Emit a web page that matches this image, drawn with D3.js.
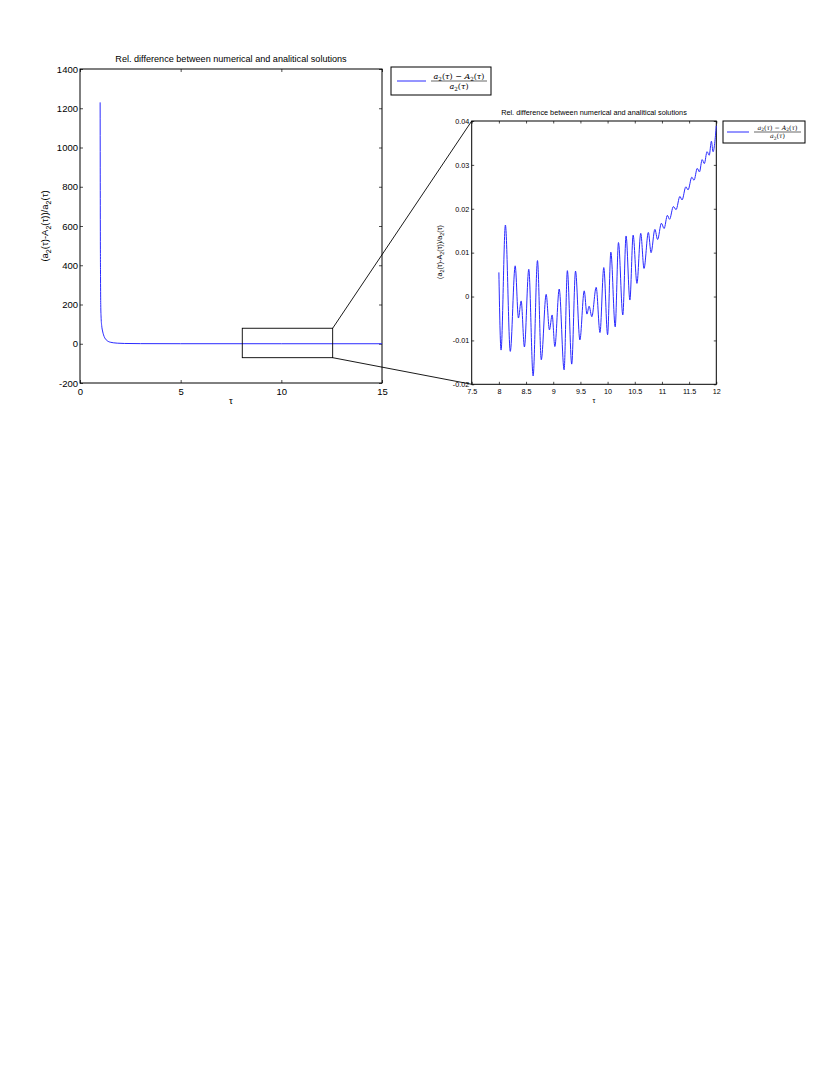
<!DOCTYPE html>
<html><head><meta charset="utf-8">
<script src="https://cdn.jsdelivr.net/npm/d3@7"></script>
<style>
body{margin:0;background:#fff;}
svg{display:block;font-family:"Liberation Sans",Arial,sans-serif;}
</style></head>
<body>
<svg id="c" width="830" height="1075"></svg>
<script>
// ---------- data ----------
const titleText = "Rel. difference between numerical and analitical solutions";
const leftXTicks = [0, 5, 10, 15];
const leftYTicks = [-200, 0, 200, 400, 600, 800, 1000, 1200, 1400];
const rightXTicks = [7.5, 8, 8.5, 9, 9.5, 10, 10.5, 11, 11.5, 12];
const rightYTicks = [-0.02, -0.01, 0, 0.01, 0.02, 0.03, 0.04];
const rightYTickLabels = ["-0.02", "-0.01", "0", "0.01", "0.02", "0.03", "0.04"];

const leftTau = [1.00, 1.005, 1.01, 1.02, 1.03, 1.05, 1.08, 1.12, 1.17, 1.23, 1.30, 1.40, 1.50, 1.65, 1.85, 2.2, 3.0, 5.0, 10, 15];
const leftVal = [1230, 900, 600, 330, 200, 130, 90, 65, 45, 30, 20, 12, 8, 5, 3, 1.5, 0.6, 0.2, 0.05, 0.04];

const rightTau = [8.00, 8.04, 8.12, 8.21, 8.30, 8.36, 8.41, 8.47, 8.55, 8.63, 8.71, 8.78, 8.87, 8.93, 8.98, 9.03,
  9.11, 9.20, 9.26, 9.34, 9.41, 9.49, 9.57, 9.62, 9.66, 9.71, 9.79, 9.86, 9.93, 10.00, 10.06, 10.14, 10.20, 10.28,
  10.34, 10.41, 10.47, 10.54, 10.61, 10.67, 10.75, 10.80, 10.87, 10.92, 10.99, 11.04, 11.10, 11.14, 11.21, 11.26,
  11.33, 11.37, 11.44, 11.48, 11.55, 11.59, 11.65, 11.69, 11.74, 11.78, 11.83, 11.87, 11.91, 11.94, 12.00];
const rightVal = [0.0055, -0.0122, 0.0163, -0.0125, 0.0070, -0.0049, -0.0010, -0.0115, 0.0062, -0.0181, 0.0082, -0.0144, 0.0005, -0.0076, -0.0042, -0.0114,
  0.0017, -0.0167, 0.0059, -0.0154, 0.0058, -0.0099, 0.0013, -0.0040, -0.0022, -0.0046, 0.0021, -0.0082, 0.0066, -0.0087, 0.0101, -0.0069, 0.0123, -0.0042,
  0.0138, -0.0008, 0.0140, 0.0030, 0.0144, 0.0064, 0.0146, 0.0100, 0.0153, 0.0130, 0.0167, 0.0155, 0.0185, 0.0176, 0.0205, 0.0198,
  0.0228, 0.0220, 0.0250, 0.0243, 0.0272, 0.0265, 0.0292, 0.0284, 0.0312, 0.0303, 0.0330, 0.0322, 0.0354, 0.0330, 0.0389];

// zoom box in left-chart data coordinates [tau0, tau1, v0, v1]
const zoomBox = [8.06, 12.55, -71, 79];

// ---------- drawing ----------
const svg = d3.select("#c");
const blue = "#2a2aff";

const xL = d3.scaleLinear().domain([0, 15]).range([80, 382]);
const yL = d3.scaleLinear().domain([-200, 1400]).range([383, 69]);
const xR = d3.scaleLinear().domain([7.5, 12]).range([471.7, 716.3]);
const yR = d3.scaleLinear().domain([-0.02, 0.04]).range([384.3, 121]);

const plain = d => String(d);

function frame(g, x, y, xt, yt, ytLabels, fs, tickLen, xLabOff, yLabOff) {
  const [x0, x1] = x.range(), [y0, y1] = y.range();
  const ax = d3.axisBottom(x).tickValues(xt).tickSizeInner(-tickLen).tickSizeOuter(0).tickPadding(xLabOff).tickFormat(plain);
  const gb = g.append("g").attr("transform", `translate(0,${y0})`).call(ax);
  const axT = d3.axisTop(x).tickValues(xt).tickSizeInner(-tickLen).tickSizeOuter(0).tickFormat("");
  const gt = g.append("g").attr("transform", `translate(0,${y1})`).call(axT);
  const ay = d3.axisLeft(y).tickValues(yt).tickSizeInner(-tickLen).tickSizeOuter(0).tickPadding(yLabOff)
    .tickFormat((d, i) => ytLabels ? ytLabels[i] : plain(d));
  const gl = g.append("g").attr("transform", `translate(${x0},0)`).call(ay);
  const ayR = d3.axisRight(y).tickValues(yt).tickSizeInner(-tickLen).tickSizeOuter(0).tickFormat("");
  const gr = g.append("g").attr("transform", `translate(${x1},0)`).call(ayR);
  [gb, gt, gl, gr].forEach(a => {
    a.select(".domain").remove();
    a.selectAll("line").attr("stroke", "#000").attr("stroke-width", 0.7);
    a.selectAll("text").attr("font-size", fs).attr("fill", "#000").attr("font-family", "Liberation Sans, Arial, sans-serif");
  });
  g.append("rect").attr("x", x0).attr("y", y1).attr("width", x1 - x0).attr("height", y0 - y1)
    .attr("fill", "none").attr("stroke", "#000").attr("stroke-width", 1);
}

// Left chart
const gL = svg.append("g");
frame(gL, xL, yL, leftXTicks, leftYTicks, null, 9.5, 3, 5, 2);
const leftData = leftTau.map((t, i) => [t, leftVal[i]]);
gL.append("path").datum(leftData)
  .attr("d", d3.line().x(d => xL(d[0])).y(d => yL(d[1])).curve(d3.curveMonotoneX))
  .attr("fill", "none").attr("stroke", blue).attr("stroke-width", 1);
gL.append("text").attr("x", 231).attr("y", 62).attr("text-anchor", "middle").attr("font-size", 9.1).text(titleText);
gL.append("text").attr("x", 231).attr("y", 404).attr("text-anchor", "middle").attr("font-size", 9.5).text("τ");

function ylabel(g, cx, cy, fs) {
  const t = g.append("text").attr("transform", `translate(${cx},${cy}) rotate(-90)`).attr("text-anchor", "middle").attr("font-size", fs);
  const sub = fs * 0.75;
  const parts = [["(a", 0], ["2", 1], ["(τ)-A", 0], ["2", 1], ["(τ))/a", 0], ["2", 1], ["(τ)", 0]];
  parts.forEach(([s, isSub], i) => {
    t.append("tspan").text(s).attr("font-size", isSub ? sub : fs)
      .attr("dy", isSub ? fs * 0.3 : (i > 0 && parts[i - 1][1] ? -fs * 0.3 : 0));
  });
}
ylabel(gL, 48, 226, 9.5);

// zoom box + connectors
gL.append("rect").attr("x", xL(zoomBox[0])).attr("y", yL(zoomBox[3]))
  .attr("width", xL(zoomBox[1]) - xL(zoomBox[0])).attr("height", yL(zoomBox[2]) - yL(zoomBox[3]))
  .attr("fill", "none").attr("stroke", "#000").attr("stroke-width", 0.9);
gL.append("line").attr("x1", xL(zoomBox[1])).attr("y1", yL(zoomBox[3])).attr("x2", xR(7.5)).attr("y2", yR(0.04))
  .attr("stroke", "#000").attr("stroke-width", 0.9);
gL.append("line").attr("x1", xL(zoomBox[1])).attr("y1", yL(zoomBox[2])).attr("x2", xR(7.5)).attr("y2", yR(-0.02))
  .attr("stroke", "#000").attr("stroke-width", 0.9);

// Right chart
const gR = svg.append("g");
frame(gR, xR, yR, rightXTicks, rightYTicks, rightYTickLabels, 7.2, 2.5, 5, 2.5);
const rightData = rightTau.map((t, i) => [t, rightVal[i]]);
gR.append("path").datum(rightData)
  .attr("d", d3.line().x(d => xR(d[0])).y(d => yR(d[1])).curve(d3.curveMonotoneX))
  .attr("fill", "none").attr("stroke", blue).attr("stroke-width", 1);
gR.append("text").attr("x", 594).attr("y", 115).attr("text-anchor", "middle").attr("font-size", 7.3).text(titleText);
gR.append("text").attr("x", 594).attr("y", 403).attr("text-anchor", "middle").attr("font-size", 7.2).text("τ");
ylabel(gR, 442, 252, 7.2);

// Legends
function legend(g, x, y, w, h, lineX0, lineX1, fs) {
  g.append("rect").attr("x", x).attr("y", y).attr("width", w).attr("height", h)
    .attr("fill", "#fff").attr("stroke", "#000").attr("stroke-width", 1);
  const my = y + h / 2;
  g.append("line").attr("x1", lineX0).attr("x2", lineX1).attr("y1", my).attr("y2", my).attr("stroke", blue).attr("stroke-width", 1);
  const fx0 = lineX1 + 5, fx1 = x + w - 4, fc = (fx0 + fx1) / 2;
  g.append("line").attr("x1", fx0).attr("x2", fx1).attr("y1", my).attr("y2", my).attr("stroke", "#000").attr("stroke-width", 0.6);
  const ff = "DejaVu Serif, serif";
  const num = g.append("text").attr("x", fc).attr("y", my - 2.5).attr("text-anchor", "middle").attr("font-size", fs).attr("font-family", ff);
  const s = fs * 0.7;
  num.append("tspan").attr("font-style", "italic").text("a");
  num.append("tspan").attr("font-size", s).attr("dy", fs * 0.25).text("2");
  num.append("tspan").attr("dy", -fs * 0.25).text("(");
  num.append("tspan").attr("font-style", "italic").text("τ");
  num.append("tspan").text(") − ");
  num.append("tspan").attr("font-style", "italic").text("A");
  num.append("tspan").attr("font-size", s).attr("dy", fs * 0.25).text("2");
  num.append("tspan").attr("dy", -fs * 0.25).text("(");
  num.append("tspan").attr("font-style", "italic").text("τ");
  num.append("tspan").text(")");
  const den = g.append("text").attr("x", fc).attr("y", my + fs * 0.95).attr("text-anchor", "middle").attr("font-size", fs).attr("font-family", ff);
  den.append("tspan").attr("font-style", "italic").text("a");
  den.append("tspan").attr("font-size", s).attr("dy", fs * 0.25).text("2");
  den.append("tspan").attr("dy", -fs * 0.25).text("(");
  den.append("tspan").attr("font-style", "italic").text("τ");
  den.append("tspan").text(")");
}
legend(svg.append("g"), 391, 67, 100, 28, 397, 426, 8);
legend(svg.append("g"), 723, 121, 82, 22, 727, 749, 6.3);
</script>
</body></html>
